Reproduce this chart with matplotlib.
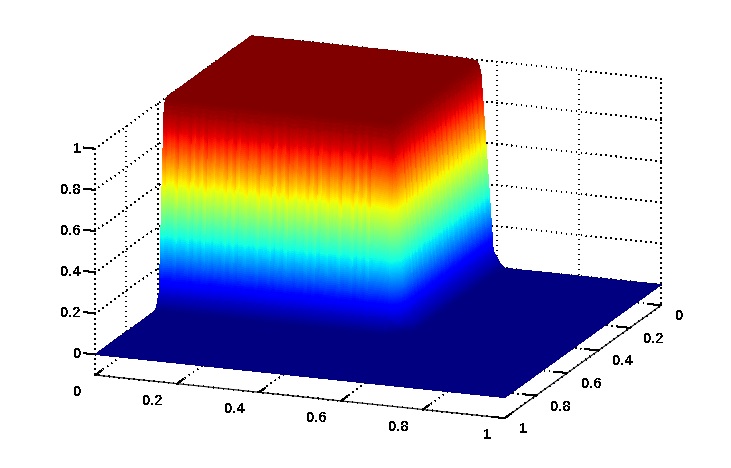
import numpy as np
import matplotlib
matplotlib.use('Agg')
import matplotlib.pyplot as plt
from mpl_toolkits.mplot3d import Axes3D, proj3d

plt.rcParams['font.family'] = ['Liberation Sans', 'DejaVu Sans']
plt.rcParams['text.antialiased'] = False
plt.rcParams['lines.antialiased'] = False

# height of the box edge going outwards
shoulder_pos = [.52, .535, .545, .55, .553, .556, .558]
shoulder_z = [1, .998, .995, .99, .98, .965, .95]
wall_z = [.93, .92, .91, .90, .89, .88, .87, .86, .85, .84, .83, .82, .81, .80, .79, .78,
          .77, .76, .75, .74, .73, .72, .71, .70, .69, .68, .67, .66, .65, .64, .63, .62,
          .61, .60, .59, .58, .57, .56, .55, .54, .53, .52, .51, .50, .49, .48, .47, .46,
          .45, .44, .43, .42, .41, .40, .39, .38, .37, .36, .35, .34, .33, .32, .31, .30,
          .29, .28, .27, .26, .25, .24, .23, .22, .21, .20, .19, .18, .17, .16, .15, .14,
          .13, .12, .11, .10, .09, .08]
foot_pos = [.592, .595, .598, .601, .604, .607, .611, .615, .62]
foot_z = [.07, .06, .05, .04, .03, .02, .012, .005, 0]

# small wobble seen as vertical streaks on the walls
streak = [.03, -.02, .01, .04, -.03, .00, .02, -.04, .03, -.01, .05, -.02, -.04, .02, .00, .03, -.03, .01, -.05, .02]

# height on the wall against the jet value seen there
color_height = [0, .146, .34, .6, .825, .89, 1]
color_value = [0, .13, .36, .64, .89, .94, 1]

tick_vals = [0, 0.2, 0.4, 0.6, 0.8, 1]
tick_labels = ['0', '0.2', '0.4', '0.6', '0.8', '1']

inner_pos = np.linspace(0, .51, 52)
wall_pos = np.linspace(.56, .59, len(wall_z))
outer_pos = np.linspace(.63, 1, 38)
pos = np.concatenate([inner_pos, shoulder_pos, wall_pos, foot_pos, outer_pos])
height = np.concatenate([np.ones(len(inner_pos)), shoulder_z, wall_z, foot_z, np.zeros(len(outer_pos))])

wobble = np.zeros(len(pos))
wobble[:len(inner_pos)] = np.resize(streak, len(inner_pos))

x_grid, y_grid = np.meshgrid(pos, pos)
z_grid = np.outer(height, height)
z_grid = z_grid + 0.7 * (wobble[None, :] + wobble[:, None]) * 4 * z_grid**2 * (1 - z_grid)
face_colors = plt.cm.jet(np.interp(z_grid, color_height, color_value))

fig = plt.figure(figsize=(7.31, 4.68), dpi=100)
ax = fig.add_axes([-0.006, 0.022, 1.03, 0.96], projection='3d', proj_type='ortho')
ax.view_init(elev=16, azim=-69.1)
ax.set_box_aspect((1, 1, 0.537), zoom=1.433)
ax.patch.set_alpha(0)

surf = ax.plot_surface(x_grid, y_grid, z_grid, facecolors=face_colors, rstride=1, cstride=1,
                       linewidth=0, antialiased=False, shade=False)
surf.set_clip_on(False)

ax.set_xlim(0, 1)
ax.set_ylim(1, 0)
ax.set_zlim(-0.1, 1)
ax.set_xticks(tick_vals)
ax.set_yticks(tick_vals)
ax.set_zticks(tick_vals)

for axis, tick_len in ((ax.xaxis, 0.5), (ax.yaxis, 0.4), (ax.zaxis, 0.35)):
    axis.set_pane_color((1, 1, 1, 0))
    axis.pane.set_edgecolor((1, 1, 1, 0))
    axis.line.set_linewidth(0.72)
    axis._axinfo['grid'].update(color='k', linestyle=(0, (1, 5)), linewidth=0.6)
    axis._axinfo['axisline']['color'] = 'k'
    axis._axinfo['tick'].update(inward_factor=0, outward_factor=tick_len, linewidth={True: 0.72, False: 0.5})
    for tick in axis.get_major_ticks():
        tick.label1.set_visible(False)

ax.zaxis.line.set_visible(False)
ax.zaxis.set_ticks_position('upper')

# tick labels sit off the tick ends as in the matlab picture, offsets in pixels
ax.apply_aspect()
M = ax.get_proj()


def put_label(xs, ys, zs, label, dx, dy, ha):
    px, py, _ = proj3d.proj_transform(xs, ys, zs, M)
    ax.annotate(label, xy=(px, py), xytext=(dx, dy), textcoords='offset pixels', ha=ha, va='center',
                fontsize=10.5, fontweight='bold', color='k', annotation_clip=False)


for val, label in zip(tick_vals, tick_labels):
    put_label(val, 1, -0.1, label, -14, -17, 'right')
    put_label(1, val, -0.1, label, 14, -11, 'left')
    put_label(0, 1, val, label, -14, 0, 'right')

fig.savefig('out.png', dpi=100)
